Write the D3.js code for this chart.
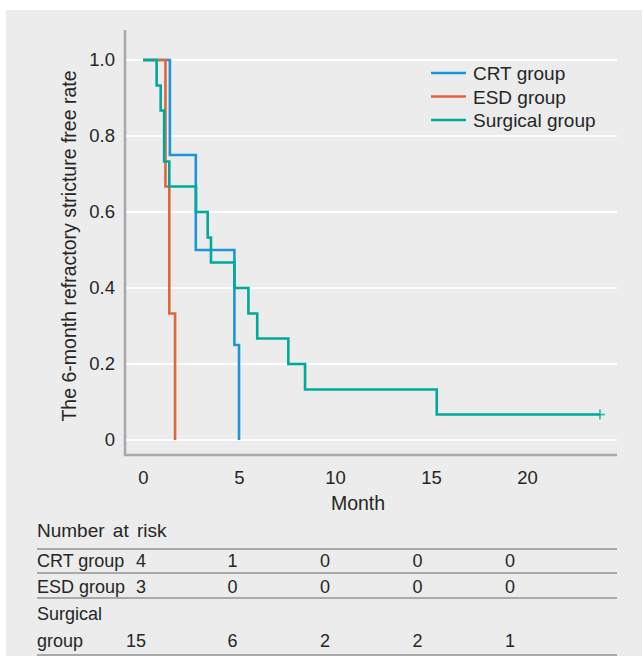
<!DOCTYPE html>
<html>
<head>
<meta charset="utf-8">
<script src="https://cdn.jsdelivr.net/npm/d3@7"></script>
<style>
  html, body { margin: 0; padding: 0; background: #fff; }
  svg { display: block; font-family: "Liberation Sans", Arial, sans-serif; }
  text { fill: #262626; }
</style>
</head>
<body>
<div id="chart"></div>
<script>
// Kaplan-Meier style step curves: 6-month refractory stricture free rate by group

// ---- data ----
const groups = ["CRT group", "ESD group", "Surgical group"];
const groupColors = ["#1a97d9", "#e3653b", "#00a99b"];

// [month, rate after event]
const crtSteps = [[0, 1], [1.4, 0.75], [2.75, 0.5], [4.76, 0.25], [5.0, 0]];
const esdSteps = [[0, 1], [1.17, 0.667], [1.37, 0.333], [1.67, 0]];
const surgicalSteps = [
  [0, 1], [0.71, 0.933], [0.92, 0.867], [1.1, 0.733], [1.37, 0.667],
  [2.76, 0.6], [3.37, 0.533], [3.54, 0.467], [4.76, 0.4], [5.49, 0.333],
  [5.95, 0.267], [7.57, 0.2], [8.44, 0.133], [15.3, 0.067], [23.8, 0.067]
];
const censored = [[23.8, 0.067]];

const xTicks = [0, 5, 10, 15, 20];
const yTicks = [0, 0.2, 0.4, 0.6, 0.8, 1.0];

const riskTimes = [0, 5, 10, 15, 20];
const riskCRT = [4, 1, 0, 0, 0];
const riskESD = [3, 0, 0, 0, 0];
const riskSurgical = [15, 6, 2, 2, 1];

// ---- layout ----
const W = 642, H = 656;
const plotLeft = 125, plotRight = 617, plotTop = 30, plotBottom = 455;

const svg = d3.select("#chart").append("svg")
  .attr("width", W).attr("height", H);

// gray panel
svg.append("rect")
  .attr("x", 6).attr("y", 10)
  .attr("width", W - 6).attr("height", H - 10)
  .attr("fill", "#ebeceb");

const x = d3.scaleLinear().domain([0, 20]).range([143, 527]);
const y = d3.scaleLinear().domain([0, 1]).range([440, 60]);

// gridlines
svg.append("g").selectAll("line").data(yTicks).join("line")
  .attr("x1", plotLeft + 1).attr("x2", plotRight)
  .attr("y1", d => y(d)).attr("y2", d => y(d))
  .attr("stroke", "#fff").attr("stroke-width", 2);

// axis lines
svg.append("path")
  .attr("d", `M${plotLeft},${plotTop}V${plotBottom}H${plotRight}`)
  .attr("fill", "none")
  .attr("stroke", "#a8a9aa")
  .attr("stroke-width", 2.6);

// y tick labels
const yAxis = d3.axisLeft(y).tickValues(yTicks).tickSize(0).tickPadding(10)
  .tickFormat(d => d === 0 ? "0" : d.toFixed(1));
const yAxisG = svg.append("g").attr("transform", `translate(${plotLeft},0)`).call(yAxis);
yAxisG.select(".domain").remove();
yAxisG.selectAll("text").style("font-size", "18.5px").style("fill", "#262626")
  .style("font-family", "'Liberation Sans', Arial, sans-serif");

// x tick labels
const xAxis = d3.axisBottom(x).tickValues(xTicks).tickSize(0).tickPadding(16);
const xAxisG = svg.append("g").attr("transform", `translate(0,${plotBottom})`).call(xAxis);
xAxisG.select(".domain").remove();
xAxisG.selectAll("text").style("font-size", "18.5px").style("fill", "#262626")
  .style("font-family", "'Liberation Sans', Arial, sans-serif");

// axis titles
svg.append("text")
  .attr("x", 358).attr("y", 510)
  .attr("text-anchor", "middle")
  .style("font-size", "19.5px")
  .text("Month");

svg.append("text")
  .attr("transform", "translate(76,246) rotate(-90)")
  .attr("text-anchor", "middle")
  .style("font-size", "19.5px")
  .text("The 6-month refractory stricture free rate");

// curves
const line = d3.line()
  .x(d => x(d[0]))
  .y(d => y(d[1]))
  .curve(d3.curveStepAfter);

[crtSteps, esdSteps, surgicalSteps].forEach((steps, i) => {
  svg.append("path")
    .datum(steps)
    .attr("d", line)
    .attr("fill", "none")
    .attr("stroke", groupColors[i])
    .attr("stroke-width", 2.6);
});

// censor marks
const cens = svg.append("g").selectAll("g").data(censored).join("g")
  .attr("transform", d => `translate(${x(d[0])},${y(d[1])})`);
cens.append("line").attr("x1", 0).attr("x2", 0).attr("y1", -5).attr("y2", 5)
  .attr("stroke", groupColors[2]).attr("stroke-width", 1.6).attr("opacity", 0.8);
cens.append("line").attr("x1", 0).attr("x2", 5).attr("y1", 0).attr("y2", 0)
  .attr("stroke", groupColors[2]).attr("stroke-width", 1.6).attr("opacity", 0.8);

// legend
const legend = svg.append("g").attr("transform", "translate(431,73)");
const legItems = legend.selectAll("g").data(groups).join("g")
  .attr("transform", (d, i) => `translate(0,${i * 23.5})`);
legItems.append("line")
  .attr("x1", 0).attr("x2", 35)
  .attr("stroke", (d, i) => groupColors[i])
  .attr("stroke-width", 2.6);
legItems.append("text")
  .attr("x", 42).attr("y", 7)
  .style("font-size", "19px")
  .text(d => d);

// number at risk table
const colX = d3.scalePoint().domain(riskTimes).range([140, 510]);
const tbl = svg.append("g").style("font-size", "18px");

tbl.append("text").attr("x", 37).attr("y", 537)
  .style("font-size", "19px")
  .style("word-spacing", "3px")
  .text("Number at risk");

const rules = [549, 573, 598, 655];
tbl.selectAll("line").data(rules).join("line")
  .attr("x1", 37).attr("x2", plotRight)
  .attr("y1", d => d).attr("y2", d => d)
  .attr("stroke", "#a8a9aa").attr("stroke-width", 2);

const rows = [
  { label: ["CRT group"], values: riskCRT, base: 567 },
  { label: ["ESD group"], values: riskESD, base: 593 },
  { label: ["Surgical", "group"], values: riskSurgical, base: 620 }
];

rows.forEach(r => {
  r.label.forEach((l, j) => {
    tbl.append("text").attr("x", 37).attr("y", r.base + j * 27).text(l);
  });
  const valY = r.base + (r.label.length - 1) * 27;
  tbl.append("g").selectAll("text").data(r.values).join("text")
    .attr("x", (d, i) => colX(riskTimes[i]) + (i === 0 ? 6 : 0))
    .attr("y", valY)
    .attr("text-anchor", (d, i) => i === 0 ? "end" : "middle")
    .text(d => d);
});
</script>
</body>
</html>
